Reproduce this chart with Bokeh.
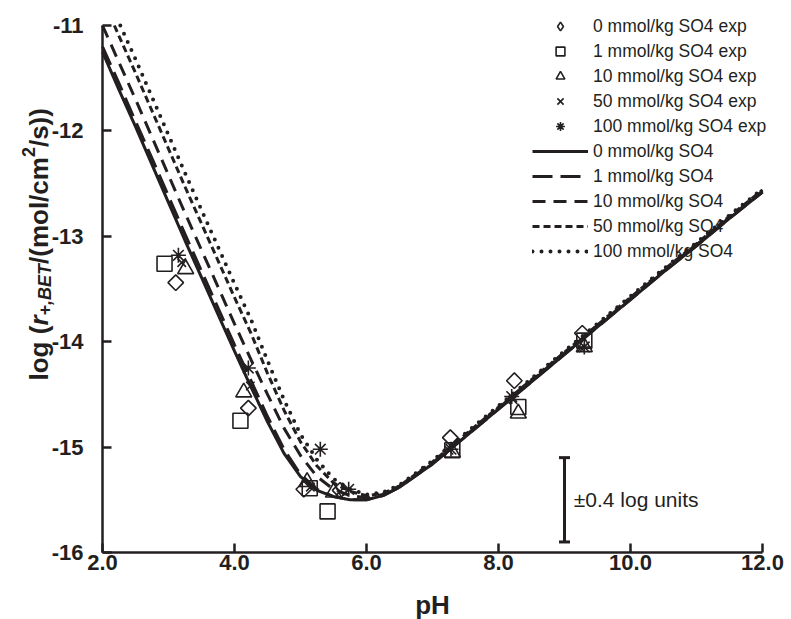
import math
from bokeh.plotting import figure
from bokeh.models import (Range1d, FixedTicker, Legend, LegendItem, Label,
                          Whisker, TeeHead, ColumnDataSource)
from bokeh.embed import file_html
from bokeh.resources import INLINE

INK = "#231f20"

# ---- model curves ----
ph_model = [2.0, 2.25, 2.5, 2.75, 3.0, 3.25, 3.5, 3.75, 4.0, 4.25, 4.5, 4.75,
            5.0, 5.25, 5.5, 5.75, 6.0, 6.25, 6.5, 7.0, 7.5, 8.0, 8.5, 9.0,
            9.5, 10.0, 10.5, 11.0, 11.5, 12.0]
model_0 = [-11.25, -11.61, -11.96, -12.32, -12.68, -13.04, -13.39, -13.74,
           -14.09, -14.43, -14.76, -15.06, -15.28, -15.41, -15.47, -15.50,
           -15.50, -15.46, -15.38, -15.16, -14.90, -14.64, -14.38, -14.12,
           -13.86, -13.60, -13.34, -13.09, -12.83, -12.58]
model_1 = [-11.20, -11.55, -11.91, -12.26, -12.62, -12.98, -13.33, -13.68,
           -14.03, -14.37, -14.71, -15.02, -15.26, -15.40, -15.47, -15.50,
           -15.50, -15.46, -15.38, -15.16, -14.90, -14.64, -14.38, -14.12,
           -13.86, -13.60, -13.34, -13.09, -12.83, -12.58]
ph_model_10 = [2.0, 2.25, 2.5, 2.75, 3.0, 3.25, 3.5, 3.75, 4.0, 4.25, 4.5, 4.75,
               5.0, 5.25, 5.5, 5.75, 6.0, 6.25, 6.5, 7.0, 7.5, 8.0, 8.5, 9.0,
               9.5, 10.0, 10.5, 11.0, 11.5, 12.0]
model_10 = [-11.00, -11.35, -11.70, -12.06, -12.42, -12.78, -13.13, -13.48,
            -13.83, -14.17, -14.50, -14.82, -15.08, -15.28, -15.40, -15.46,
            -15.48, -15.45, -15.37, -15.15, -14.89, -14.63, -14.37, -14.11,
            -13.85, -13.59, -13.33, -13.08, -12.82, -12.57]
ph_model_50 = [2.18, 2.25, 2.5, 2.75, 3.0, 3.25, 3.5, 3.75, 4.0, 4.25, 4.5, 4.75,
               5.0, 5.25, 5.5, 5.75, 6.0, 6.25, 6.5, 7.0, 7.5, 8.0, 8.5, 9.0,
               9.5, 10.0, 10.5, 11.0, 11.5, 12.0]
model_50 = [-11.00, -11.10, -11.45, -11.81, -12.17, -12.53, -12.88, -13.23,
            -13.58, -13.92, -14.30, -14.65, -14.95, -15.18, -15.34, -15.42,
            -15.46, -15.44, -15.37, -15.14, -14.88, -14.62, -14.36, -14.10,
            -13.84, -13.58, -13.32, -13.07, -12.81, -12.56]
ph_model_100 = [2.27, 2.5, 2.75, 3.0, 3.25, 3.5, 3.75, 4.0, 4.25, 4.5, 4.75,
                5.0, 5.25, 5.5, 5.75, 6.0, 6.25, 6.5, 7.0, 7.5, 8.0, 8.5, 9.0,
                9.5, 10.0, 10.5, 11.0, 11.5, 12.0]
model_100 = [-11.00, -11.32, -11.68, -12.04, -12.40, -12.75, -13.10,
             -13.45, -13.79, -14.18, -14.55, -14.88, -15.12, -15.30, -15.40,
             -15.45, -15.43, -15.36, -15.13, -14.87, -14.61, -14.35, -14.09,
             -13.83, -13.57, -13.31, -13.06, -12.80, -12.55]

# ---- experimental points ----
exp_ph_0 = [3.11, 4.21, 5.05, 5.60, 7.27, 8.24, 9.27]
exp_r_0 = [-13.44, -14.63, -15.40, -15.41, -14.91, -14.37, -13.92]
exp_ph_1 = [2.94, 4.09, 5.14, 5.41, 7.30, 8.30, 9.30]
exp_r_1 = [-13.26, -14.75, -15.39, -15.61, -15.03, -14.62, -13.99]
exp_ph_10 = [3.26, 4.14, 5.10, 5.50, 7.30, 8.30, 9.30]
exp_r_10 = [-13.31, -14.48, -15.33, -15.43, -15.05, -14.68, -14.05]
exp_ph_50 = [3.20, 4.24, 5.15, 5.60, 7.25, 8.22, 9.25]
exp_r_50 = [-13.25, -14.42, -15.38, -15.42, -15.03, -14.55, -14.06]
exp_ph_100 = [3.15, 4.21, 5.30, 5.73, 7.28, 8.20, 9.30]
exp_r_100 = [-13.18, -14.25, -15.02, -15.40, -15.02, -14.52, -14.05]

exp_labels = ["0 mmol/kg SO4 exp", "1 mmol/kg SO4 exp", "10 mmol/kg SO4 exp",
              "50 mmol/kg SO4 exp", "100 mmol/kg SO4 exp"]
model_labels = ["0 mmol/kg SO4", "1 mmol/kg SO4", "10 mmol/kg SO4",
                "50 mmol/kg SO4", "100 mmol/kg SO4"]

x_ticks = [2, 4, 6, 8, 10, 12]
x_tick_labels = ["2.0", "4.0", "6.0", "8.0", "10.0", "12.0"]
y_ticks = [-16, -15, -14, -13, -12, -11]
y_tick_labels = ["-16", "-15", "-14", "-13", "-12", "-11"]

errbar_ph = 9.0
errbar_center = -15.5
errbar_half = 0.4

# axis extents and where they sit on the canvas (layout, in pixels)
X0, X1, Y0, Y1 = 2, 12, -16, -11
W_PX, H_PX = 791, 619
AX_LEFT, AX_RIGHT, AX_TOP, AX_BOTTOM = 102, 762, 25, 552
SX = (AX_RIGHT - AX_LEFT) / (X1 - X0)
SY = (AX_BOTTOM - AX_TOP) / (Y1 - Y0)
XA = X0 - AX_LEFT / SX
XB = X1 + (W_PX - AX_RIGHT) / SX
YT = Y1 + AX_TOP / SY
YB = Y0 - (H_PX - AX_BOTTOM) / SY


def cx(px):  # canvas x pixel -> data x
    return XA + px / SX


def cy(py):  # canvas y pixel (from top) -> data y
    return YT - py / SY


p = figure(width=W_PX, height=H_PX, output_backend="svg", toolbar_location=None,
           x_range=Range1d(XA, XB), y_range=Range1d(YB, YT),
           min_border_left=0, min_border_right=0, min_border_top=0,
           min_border_bottom=0)
p.outline_line_color = None
p.xgrid.visible = False
p.ygrid.visible = False
p.background_fill_color = "white"
p.border_fill_color = "white"

for ax in (p.xaxis[0], p.yaxis[0]):
    ax.axis_line_color = INK
    ax.axis_line_width = 2.5
    ax.major_tick_line_color = INK
    ax.major_tick_line_width = 2.5
    ax.major_tick_in = 9
    ax.major_tick_out = 0
    ax.minor_tick_line_color = None
    ax.major_label_text_font = "Liberation Sans"
    ax.major_label_text_font_style = "bold"
    ax.major_label_text_font_size = "22px"
    ax.major_label_text_color = INK

p.xaxis.fixed_location = Y0
p.xaxis.bounds = (X0, X1)
p.xaxis.ticker = FixedTicker(ticks=x_ticks)
p.xaxis.major_label_overrides = {t: l for t, l in zip(x_ticks, x_tick_labels)}
p.xaxis.major_label_standoff = 2

p.yaxis.fixed_location = X0
p.yaxis.bounds = (Y0, Y1)
p.yaxis.ticker = FixedTicker(ticks=y_ticks)
p.yaxis.major_label_overrides = {t: l for t, l in zip(y_ticks, y_tick_labels)}
p.yaxis.major_label_standoff = 19

# ---- model lines ----
model_x = [ph_model, ph_model, ph_model_10, ph_model_50, ph_model_100]
models = [model_0, model_1, model_10, model_50, model_100]
dashes = ["solid", "20 8", "13 8", "7 4", "0 9"]
widths = [3, 3, 3, 3, 4]
line_renderers = []
for xs, ys, d, w in zip(model_x, models, dashes, widths):
    r = p.line(xs, ys, line_color=INK, line_width=w, line_dash=d,
               line_cap="round" if d == "0 9" else "butt")
    line_renderers.append(r)

# ---- experimental markers ----
exp_sets = [(exp_ph_0, exp_r_0), (exp_ph_1, exp_r_1), (exp_ph_10, exp_r_10),
            (exp_ph_50, exp_r_50), (exp_ph_100, exp_r_100)]
markers = ["square", "square", "triangle", "x", "asterisk"]
sizes = [11, 15, 16, 12, 15]
angles = [math.pi / 4, 0, 0, 0, 0]
marker_renderers = []
for (xs, ys), m, s, a in zip(exp_sets, markers, sizes, angles):
    r = p.scatter(xs, ys, marker=m, size=s, angle=a, line_color=INK,
                  line_width=1.6, fill_color=None)
    marker_renderers.append(r)

# the legend draws markers unrotated, so the diamond key uses a (hidden) diamond glyph
legend_keys = list(marker_renderers)
legend_keys[0] = p.scatter(exp_ph_0, exp_r_0, marker="diamond", size=11,
                           line_color=INK, line_width=1.6, fill_color=None,
                           visible=False)

items = [LegendItem(label=l, renderers=[r]) for l, r in zip(exp_labels, legend_keys)]
items += [LegendItem(label=l, renderers=[r]) for l, r in zip(model_labels, line_renderers)]
legend = Legend(items=items, location=(532, 357), padding=0, margin=0,
                border_line_color=None, background_fill_alpha=0,
                inactive_fill_alpha=0,
                glyph_width=56, glyph_height=22, label_height=22, spacing=3,
                label_standoff=5, label_text_font="Liberation Sans",
                label_text_font_size="17.5px", label_text_color=INK)
p.add_layout(legend, "center")

# ---- error bar ----
eb = ColumnDataSource(dict(base=[errbar_ph], lower=[errbar_center - errbar_half],
                           upper=[errbar_center + errbar_half]))
p.add_layout(Whisker(base="base", lower="lower", upper="upper", source=eb,
                     dimension="height", line_color=INK, line_width=3,
                     upper_head=TeeHead(size=11, line_width=3, line_color=INK),
                     lower_head=TeeHead(size=11, line_width=3, line_color=INK)))
p.add_layout(Label(x=errbar_ph + 0.14, y=errbar_center, text="±0.4 log units",
                   text_baseline="middle", text_font="Liberation Sans",
                   text_font_size="21px", text_color=INK))

# ---- x axis title ----
p.add_layout(Label(x=(X0 + X1) / 2, y=cy(604), text="pH", text_align="center",
                   text_baseline="middle", text_font="Liberation Sans",
                   text_font_style="bold", text_font_size="26px", text_color=INK))

# ---- y axis title with sub/superscripts ----
F, FS = 26, 18
W = {"l": 278, "o": 611, "g": 611, " ": 278, "(": 333, "r": 389, "+": 584,
     ",": 278, "B": 722, "E": 667, "T": 611, "/": 278, "m": 889, "c": 556,
     "2": 556, "s": 556, ")": 333}
pieces = [("log (", F, "bold", 0), ("r", F, "bold italic", 0),
          ("+,BET", FS, "bold italic", 6), ("/(mol/cm", F, "bold", 0),
          ("2", FS, "bold", -10), ("/s))", F, "bold", 0)]
base_px = 38
pos_px = 380
for txt, fs, style, dx in pieces:
    p.add_layout(Label(x=cx(base_px + dx), y=cy(pos_px),
                       text=txt, angle=math.pi / 2, text_font="Liberation Sans",
                       text_font_style=style, text_font_size=f"{fs}px",
                       text_color=INK, text_baseline="alphabetic", text_align="left"))
    pos_px -= sum(W[c] for c in txt) * fs / 1000.0

open("out.html", "w").write(file_html(p, INLINE))
